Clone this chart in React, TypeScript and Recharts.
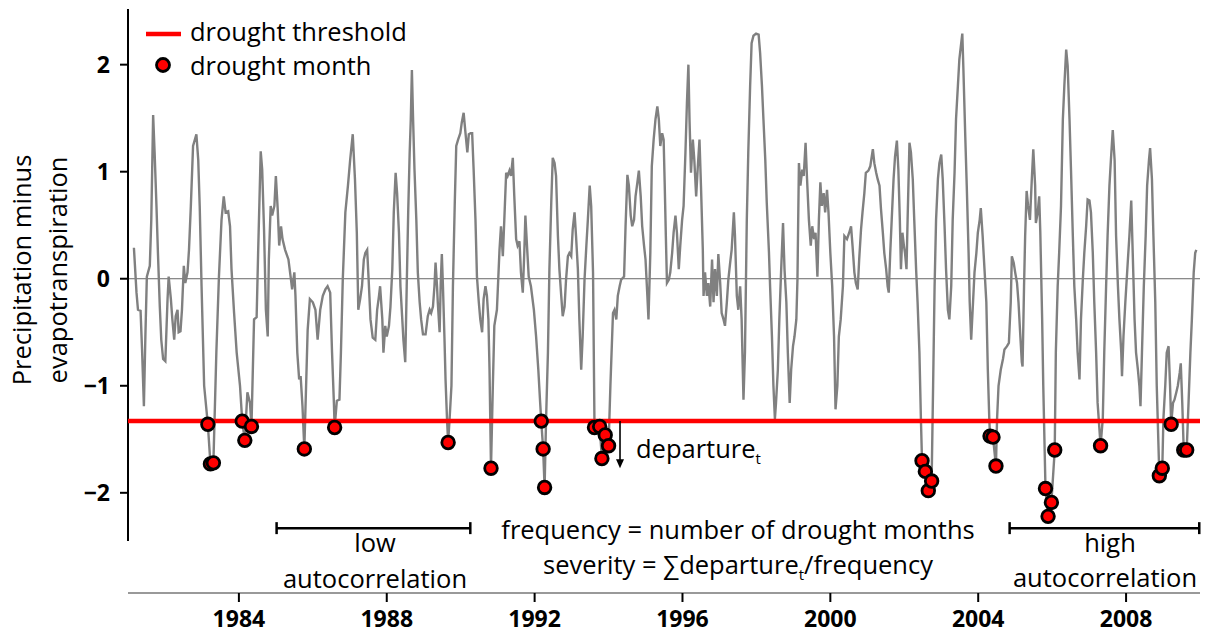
import React from 'react';
import {
  ComposedChart,
  Line,
  Scatter,
  XAxis,
  YAxis,
  ReferenceLine,
  ReferenceDot,
} from 'recharts';

// P - ET series, [decimal year, value] (vertices of the line)
const pmeSeries: [number, number][] = [
  [1981.16, 0.29], [1981.23, -0.13], [1981.27, -0.29], [1981.34, -0.30], [1981.38, -0.66],
  [1981.43, -1.19], [1981.47, -0.54], [1981.51, 0.02], [1981.59, 0.12], [1981.63, 0.55],
  [1981.68, 1.53], [1981.72, 1.18], [1981.77, 0.68], [1981.81, 0.24], [1981.86, -0.26],
  [1981.90, -0.57], [1981.95, -0.75], [1982.01, -0.77], [1982.07, -0.19], [1982.10, 0.02],
  [1982.16, -0.19], [1982.20, -0.38], [1982.25, -0.57], [1982.29, -0.35], [1982.34, -0.29],
  [1982.37, -0.50], [1982.42, -0.49], [1982.46, -0.29], [1982.51, 0.12], [1982.55, -0.04],
  [1982.61, 0.06], [1982.65, 0.27], [1982.70, 0.68], [1982.76, 1.24], [1982.85, 1.35],
  [1982.90, 1.11], [1982.94, 0.68], [1982.99, -0.07], [1983.06, -1.00],
  [1983.39, -0.69], [1983.46, 0.02], [1983.53, 0.55], [1983.59, 0.77], [1983.64, 0.62],
  [1983.71, 0.63], [1983.76, 0.49], [1983.80, 0.09], [1983.87, -0.32], [1983.94, -0.69],
  [1984.03, -1.00], [1984.23, -1.06], [1984.30, -1.16],
  [1984.41, -0.38], [1984.48, -0.36], [1984.52, 0.24], [1984.59, 1.19], [1984.63, 1.02],
  [1984.68, 0.46], [1984.73, -0.29], [1984.78, -0.54], [1984.81, 0.18], [1984.86, 0.68],
  [1984.90, 0.59], [1984.96, 0.68], [1985.00, 0.96], [1985.05, 0.65], [1985.09, 0.31],
  [1985.14, 0.49], [1985.18, 0.37], [1985.25, 0.27], [1985.34, 0.18], [1985.41, -0.01],
  [1985.44, -0.10], [1985.50, 0.06], [1985.53, -0.16], [1985.58, -0.69], [1985.63, -0.94],
  [1985.67, -0.91], [1985.72, -1.19],
  [1985.86, -0.48], [1985.92, -0.19], [1986.00, -0.22], [1986.07, -0.29], [1986.13, -0.57],
  [1986.20, -0.29], [1986.27, -0.16], [1986.34, -0.10], [1986.40, -0.07], [1986.47, -0.13],
  [1986.52, -0.69], [1986.57, -1.16],
  [1986.65, -1.14], [1986.72, -1.13], [1986.76, -0.69], [1986.81, -0.01], [1986.88, 0.62],
  [1986.95, 0.87], [1987.01, 1.11], [1987.08, 1.35], [1987.14, 0.93], [1987.19, 0.43],
  [1987.23, -0.29], [1987.28, -0.19], [1987.33, -0.07], [1987.38, 0.18], [1987.42, 0.24],
  [1987.47, 0.27], [1987.51, -0.01], [1987.56, -0.38], [1987.62, -0.55], [1987.69, -0.57],
  [1987.74, -0.29], [1987.79, -0.16], [1987.82, -0.07], [1987.88, -0.38], [1987.91, -0.69],
  [1987.96, -0.44], [1988.00, -0.54], [1988.06, -0.44], [1988.10, -0.26], [1988.15, 0.09],
  [1988.19, 0.62], [1988.24, 0.99], [1988.28, 0.80], [1988.33, 0.43], [1988.37, -0.07],
  [1988.42, -0.38], [1988.45, -0.57], [1988.50, -0.78], [1988.54, -0.07], [1988.58, 0.62],
  [1988.62, 1.18], [1988.65, 1.49], [1988.68, 1.95], [1988.71, 1.52], [1988.75, 1.02],
  [1988.80, 0.55], [1988.84, 0.06], [1988.89, -0.22], [1988.93, -0.38], [1988.98, -0.52],
  [1989.05, -0.52], [1989.11, -0.35], [1989.16, -0.29], [1989.20, -0.32], [1989.25, -0.26],
  [1989.29, -0.07], [1989.32, 0.15], [1989.36, -0.07], [1989.38, -0.22], [1989.43, -0.50],
  [1989.46, -0.04], [1989.49, 0.23], [1989.52, -0.07], [1989.56, -0.54], [1989.59, -0.94],
  [1989.63, -1.31],
  [1989.70, -1.31], [1989.75, -1.00], [1989.79, -0.07], [1989.84, 0.71], [1989.88, 1.24],
  [1989.93, 1.30], [1989.99, 1.36], [1990.03, 1.46], [1990.08, 1.55], [1990.13, 1.36],
  [1990.18, 1.18], [1990.22, 1.35], [1990.27, 1.36], [1990.31, 1.36], [1990.35, 1.02],
  [1990.40, 0.55], [1990.44, 0.02], [1990.49, -0.22], [1990.53, -0.38], [1990.58, -0.50],
  [1990.62, -0.19], [1990.67, -0.07], [1990.71, -0.16], [1990.75, -0.38], [1990.78, -0.85],
  [1990.87, -1.00], [1990.91, -0.44], [1990.98, -0.29], [1991.05, 0.27], [1991.09, 0.49],
  [1991.14, 0.21], [1991.18, 0.55], [1991.23, 0.99], [1991.27, 0.96], [1991.32, 1.01],
  [1991.36, 0.96], [1991.41, 1.13], [1991.45, 0.77], [1991.50, 0.37], [1991.54, 0.31],
  [1991.59, 0.35], [1991.63, 0.06], [1991.68, -0.13], [1991.72, 0.24], [1991.75, 0.59],
  [1991.80, 0.27], [1991.84, 0.02], [1991.90, -0.07], [1991.98, -0.29], [1992.04, -0.54],
  [1992.10, -0.85], [1992.15, -1.16],
  [1992.31, -1.31], [1992.36, -0.69], [1992.40, 0.09], [1992.45, 0.71], [1992.49, 1.13],
  [1992.54, 1.08], [1992.58, 0.96], [1992.63, 0.40], [1992.67, 0.09], [1992.72, -0.16],
  [1992.76, -0.35], [1992.81, -0.26], [1992.85, -0.01], [1992.90, 0.21], [1992.94, 0.24],
  [1992.99, 0.21], [1993.03, 0.46], [1993.08, 0.62], [1993.12, 0.40], [1993.17, 0.09],
  [1993.21, -0.38], [1993.26, -0.85], [1993.30, -0.54], [1993.35, -0.01], [1993.40, 0.31],
  [1993.44, 0.55], [1993.49, 0.87], [1993.53, 0.68], [1993.58, 0.06],
  [1994.05, -1.00], [1994.12, -0.32], [1994.16, -0.29], [1994.21, -0.38], [1994.25, -0.16],
  [1994.30, -0.07], [1994.34, -0.01], [1994.42, 0.02], [1994.46, 0.49], [1994.51, 0.97],
  [1994.55, 0.87], [1994.60, 0.59], [1994.64, 0.49], [1994.69, 0.55], [1994.73, 0.77],
  [1994.78, 0.90], [1994.82, 1.01], [1994.87, 0.77], [1994.91, 0.49], [1994.96, 0.31],
  [1995.00, 0.18], [1995.05, -0.16], [1995.08, -0.38], [1995.13, 0.24], [1995.17, 1.05],
  [1995.22, 1.30], [1995.27, 1.49], [1995.32, 1.61], [1995.36, 1.49], [1995.40, 1.24],
  [1995.45, 1.36], [1995.49, 1.30], [1995.52, 0.87], [1995.55, 0.40], [1995.58, -0.04],
  [1995.63, -0.01], [1995.67, 0.06], [1995.72, 0.24], [1995.76, 0.43], [1995.81, 0.59],
  [1995.85, 0.43], [1995.90, 0.09], [1995.94, 0.31], [1995.99, 0.55], [1996.03, 0.68],
  [1996.08, 1.18], [1996.12, 1.64], [1996.16, 2.00], [1996.19, 1.49], [1996.23, 0.99],
  [1996.28, 1.30], [1996.32, 1.11], [1996.37, 0.77], [1996.41, 1.02], [1996.46, 1.30],
  [1996.50, 0.87], [1996.55, 0.27], [1996.57, -0.16], [1996.61, 0.06], [1996.66, -0.16],
  [1996.70, -0.04], [1996.75, -0.26], [1996.80, 0.18], [1996.84, -0.22], [1996.88, 0.09],
  [1996.93, -0.16], [1996.97, 0.23], [1997.02, -0.04], [1997.06, -0.32], [1997.11, -0.38],
  [1997.15, -0.44], [1997.20, -0.22], [1997.24, -0.01], [1997.29, 0.15], [1997.33, 0.27],
  [1997.39, 0.62], [1997.42, 0.40], [1997.47, -0.16], [1997.51, -0.29], [1997.56, -0.07],
  [1997.60, -0.38], [1997.65, -1.13], [1997.69, -0.69], [1997.74, 0.55], [1997.78, 1.18],
  [1997.83, 1.80], [1997.87, 2.20], [1997.92, 2.27], [1997.99, 2.29], [1998.06, 2.28],
  [1998.10, 2.11], [1998.15, 1.80], [1998.19, 1.49], [1998.24, 1.11], [1998.28, 0.71],
  [1998.34, 0.24], [1998.37, -0.07], [1998.42, -0.54], [1998.46, -1.00], [1998.50, -1.31],
  [1998.53, -1.16], [1998.58, -0.85], [1998.62, -0.38], [1998.67, 0.09], [1998.72, 0.52],
  [1998.76, 0.09], [1998.81, -0.22], [1998.85, -0.69], [1998.90, -1.16], [1998.94, -0.85],
  [1998.99, -0.63], [1999.03, -0.54], [1999.08, -0.38], [1999.11, -0.01], [1999.15, 1.08],
  [1999.19, 0.87], [1999.24, 1.02], [1999.28, 0.96], [1999.33, 1.27], [1999.37, 0.93],
  [1999.42, 0.55], [1999.47, 0.31], [1999.51, 0.49], [1999.56, 0.37], [1999.60, 0.43],
  [1999.65, 0.02], [1999.69, 0.55], [1999.73, 0.90], [1999.77, 0.68], [1999.82, 0.80],
  [1999.86, 0.62], [1999.91, 0.83], [1999.95, 0.62], [2000.00, 0.24], [2000.05, -0.07],
  [2000.10, -0.54], [2000.14, -1.22], [2000.19, -1.00], [2000.23, -0.54], [2000.28, -0.38],
  [2000.34, -0.07], [2000.38, 0.40], [2000.45, 0.37], [2000.51, 0.43], [2000.56, 0.49],
  [2000.60, 0.31], [2000.65, 0.06], [2000.69, -0.04], [2000.74, -0.10], [2000.78, 0.18],
  [2000.83, 0.46], [2000.87, 0.62], [2000.92, 0.80], [2000.96, 0.99], [2001.03, 1.01],
  [2001.08, 1.05], [2001.15, 1.21], [2001.19, 1.08], [2001.24, 0.99], [2001.28, 0.93],
  [2001.33, 0.87], [2001.37, 0.65], [2001.42, 0.43], [2001.46, 0.24], [2001.51, 0.09],
  [2001.55, -0.07], [2001.58, -0.13], [2001.62, 0.24], [2001.66, 0.55], [2001.71, 0.93],
  [2001.75, 1.14], [2001.80, 1.29], [2001.84, 1.02], [2001.88, 0.55], [2001.91, 0.09],
  [2001.95, 0.43], [2001.99, 0.31], [2002.02, 0.24], [2002.06, 0.09], [2002.09, 0.55],
  [2002.14, 1.27], [2002.18, 1.18], [2002.23, 0.93], [2002.27, 0.55], [2002.32, 0.09],
  [2002.36, -0.22], [2002.41, -0.69], [2002.45, -1.31],
  [2002.78, -1.00], [2002.82, -0.07], [2002.86, 0.55], [2002.91, 0.93], [2002.95, 1.08],
  [2003.00, 1.16], [2003.04, 0.93], [2003.09, 0.49], [2003.13, 0.09], [2003.18, -0.29],
  [2003.22, -0.38], [2003.27, -0.07], [2003.31, 0.55], [2003.36, 0.99], [2003.40, 1.49],
  [2003.45, 1.80], [2003.49, 2.05], [2003.54, 2.20], [2003.57, 2.29], [2003.60, 1.95],
  [2003.65, 1.33], [2003.69, 0.87], [2003.74, 0.24], [2003.77, -0.22], [2003.81, -0.57],
  [2003.86, -0.22], [2003.90, 0.06], [2003.95, 0.24], [2003.99, 0.43], [2004.04, 0.55],
  [2004.07, 0.66], [2004.12, 0.40], [2004.17, 0.09], [2004.22, -0.22], [2004.26, -0.85],
  [2004.30, -1.31],
  [2004.51, -1.31], [2004.55, -1.00], [2004.61, -0.85], [2004.67, -0.75], [2004.71, -0.66],
  [2004.78, -0.63], [2004.83, -0.60], [2004.88, -0.22], [2004.91, 0.21], [2004.96, 0.15],
  [2005.00, 0.06], [2005.05, -0.04], [2005.09, -0.22], [2005.14, -0.54], [2005.18, -0.78],
  [2005.20, -0.82], [2005.24, -0.07], [2005.27, 0.40], [2005.31, 0.82], [2005.35, 0.68],
  [2005.40, 0.55], [2005.45, 0.93], [2005.49, 1.21], [2005.54, 0.87], [2005.56, 0.52],
  [2005.61, 0.62], [2005.65, 0.77], [2005.68, 0.43], [2005.73, -0.38], [2005.76, -1.00],
  [2006.10, -0.69], [2006.15, -0.07], [2006.19, 0.24], [2006.24, 0.68], [2006.29, 1.49],
  [2006.33, 1.80], [2006.38, 2.14], [2006.42, 1.99], [2006.47, 1.49], [2006.51, 1.02],
  [2006.56, 0.40], [2006.60, -0.07], [2006.65, -0.38], [2006.69, -0.69], [2006.74, -0.94],
  [2006.78, -0.38], [2006.83, -0.01], [2006.87, 0.24], [2006.92, 0.49], [2006.96, 0.74],
  [2007.01, 0.73], [2007.05, 0.62], [2007.10, 0.24], [2007.14, -0.22], [2007.19, -0.69],
  [2007.23, -1.16], [2007.28, -1.41],
  [2007.37, -1.31], [2007.41, -0.69], [2007.46, -0.07], [2007.50, 0.40], [2007.55, 0.87],
  [2007.59, 1.11], [2007.64, 1.39], [2007.69, 1.11], [2007.73, 0.40], [2007.78, -0.07],
  [2007.82, -0.38], [2007.87, -0.69], [2007.89, -0.91], [2007.93, -0.54], [2007.98, -0.22],
  [2008.05, 0.18], [2008.09, 0.40], [2008.14, 0.73], [2008.18, 0.24], [2008.23, -0.38],
  [2008.27, -0.69], [2008.32, -0.85], [2008.36, -1.00], [2008.39, -1.19], [2008.43, -0.69],
  [2008.48, -0.07], [2008.53, 0.40], [2008.57, 0.87], [2008.62, 1.11], [2008.65, 1.22],
  [2008.70, 0.93], [2008.74, 0.40], [2008.79, -0.22], [2008.83, -1.00],
  [2009.01, -1.31], [2009.06, -1.00], [2009.10, -0.69], [2009.15, -0.63], [2009.19, -1.00],
  [2009.27, -1.16], [2009.31, -1.13], [2009.36, -1.06], [2009.40, -1.00], [2009.45, -0.88],
  [2009.48, -0.79], [2009.52, -1.16],
  [2009.69, -1.16], [2009.74, -0.69], [2009.78, -0.38], [2009.83, 0.06], [2009.87, 0.24],
  [2009.90, 0.27],
];

// months below the threshold
const droughtMonths: [number, number][] = [
  [1983.16, -1.36], [1983.23, -1.73], [1983.31, -1.72], [1984.09, -1.33], [1984.16, -1.51],
  [1984.34, -1.38], [1985.77, -1.59], [1986.59, -1.39], [1989.66, -1.53], [1990.82, -1.77],
  [1992.18, -1.33], [1992.23, -1.59], [1992.27, -1.95], [1993.62, -1.39], [1993.76, -1.38],
  [1993.82, -1.68], [1993.91, -1.46], [1994.00, -1.56], [2002.48, -1.70], [2002.57, -1.80],
  [2002.65, -1.98], [2002.74, -1.89], [2004.32, -1.47], [2004.40, -1.48], [2004.48, -1.75],
  [2005.82, -1.96], [2005.89, -2.22], [2005.98, -2.09], [2006.07, -1.60], [2007.31, -1.56],
  [2008.90, -1.84], [2008.98, -1.77], [2009.22, -1.36], [2009.56, -1.60], [2009.64, -1.60],
];

const threshold = -1.33;
const xTicks = [1984, 1988, 1992, 1996, 2000, 2004, 2008];
const yTicks = [-2, -1, 0, 1, 2];

const lineData = [...pmeSeries, ...droughtMonths]
  .map(([t, v]) => ({ t, v }))
  .sort((a, b) => a.t - b.t);
const dotData = droughtMonths.map(([t, v]) => ({ t, v }));

const FONT = '"Open Sans", sans-serif';
const BRACKET_Y = -2.33;
const CAP = 0.056;

const fmtY = (v: number) => (v < 0 ? `\u2212${Math.abs(v)}` : `${v}`);

const DroughtDot = (props: any) => (
  <circle cx={props.cx} cy={props.cy} r={6.3} fill="#ff0000" stroke="#000" strokeWidth={2.8} />
);

const ArrowHead = (props: any) => (
  <path
    d={`M${props.cx - 4},${props.cy - 9} L${props.cx},${props.cy} L${props.cx + 4},${props.cy - 9} Z`}
    fill="#000"
  />
);

export default function App() {
  const txt = { fontFamily: FONT, fontSize: 25.5, fill: '#000' };
  return (
    <div style={{ position: 'absolute', left: 0, top: 0, width: 1207, height: 634, background: '#fff' }}>
      <ComposedChart width={1207} height={634} margin={{ top: 9, right: 7, bottom: 0, left: 0 }}>
        <XAxis
          dataKey="t"
          type="number"
          domain={[1981, 2010]}
          ticks={xTicks}
          allowDataOverflow
          height={41}
          tickSize={9}
          tickMargin={9}
          axisLine={{ stroke: '#777', strokeWidth: 1.5 }}
          tickLine={{ stroke: '#000', strokeWidth: 2 }}
          tick={{ fill: '#000', fontSize: 23, fontWeight: 700, fontFamily: FONT }}
        />
        <YAxis
          type="number"
          domain={[-2.936, 2.52]}
          ticks={yTicks}
          allowDataOverflow
          width={128}
          tickSize={8}
          tickMargin={10}
          axisLine={false}
          tickLine={{ stroke: '#000', strokeWidth: 2 }}
          tickFormatter={fmtY}
          tick={{ fill: '#000', fontSize: 23, fontWeight: 700, fontFamily: FONT }}
        />
        <ReferenceLine y={0} stroke="#666" strokeWidth={1} />
        <ReferenceLine
          segment={[{ x: 1981, y: -2.45 }, { x: 1981, y: 2.52 }]}
          stroke="#000"
          strokeWidth={2}
        />
        <Line
          data={lineData}
          dataKey="v"
          type="linear"
          stroke="#808080"
          strokeWidth={2.4}
          dot={false}
          activeDot={false}
          isAnimationActive={false}
        />
        <ReferenceLine y={threshold} stroke="#ff0000" strokeWidth={4.5} />
        <Scatter data={dotData} dataKey="v" shape={DroughtDot} isAnimationActive={false} />

        {/* departure arrow */}
        <ReferenceLine
          segment={[{ x: 1994.31, y: threshold }, { x: 1994.31, y: -1.72 }]}
          stroke="#000"
          strokeWidth={1.6}
        />
        <ReferenceDot x={1994.31} y={-1.77} shape={ArrowHead} />

        {/* low autocorrelation bracket */}
        <ReferenceLine segment={[{ x: 1985.02, y: BRACKET_Y }, { x: 1990.26, y: BRACKET_Y }]} stroke="#000" strokeWidth={2.5} />
        <ReferenceLine segment={[{ x: 1985.02, y: BRACKET_Y - CAP }, { x: 1985.02, y: BRACKET_Y + CAP }]} stroke="#000" strokeWidth={2.5} />
        <ReferenceLine segment={[{ x: 1990.26, y: BRACKET_Y - CAP }, { x: 1990.26, y: BRACKET_Y + CAP }]} stroke="#000" strokeWidth={2.5} />

        {/* high autocorrelation bracket */}
        <ReferenceLine segment={[{ x: 2004.85, y: BRACKET_Y }, { x: 2009.98, y: BRACKET_Y }]} stroke="#000" strokeWidth={2.5} />
        <ReferenceLine segment={[{ x: 2004.85, y: BRACKET_Y - CAP }, { x: 2004.85, y: BRACKET_Y + CAP }]} stroke="#000" strokeWidth={2.5} />
        <ReferenceLine segment={[{ x: 2009.98, y: BRACKET_Y - CAP }, { x: 2009.98, y: BRACKET_Y + CAP }]} stroke="#000" strokeWidth={2.5} />
      </ComposedChart>

      <svg width={1207} height={634} style={{ position: 'absolute', left: 0, top: 0, pointerEvents: 'none' }}>
        {/* legend */}
        <line x1={146} x2={181} y1={34} y2={34} stroke="#ff0000" strokeWidth={4.5} />
        <text x={190} y={41} {...txt}>drought threshold</text>
        <circle cx={163} cy={65} r={6.5} fill="#ff0000" stroke="#000" strokeWidth={2.8} />
        <text x={190} y={75} {...txt}>drought month</text>

        {/* y axis title */}
        <text transform="translate(31,270) rotate(-90)" textAnchor="middle" {...txt}>
          Precipitation minus
        </text>
        <text transform="translate(67,270) rotate(-90)" textAnchor="middle" {...txt}>
          evapotranspiration
        </text>

        <text x={636} y={458} {...txt}>
          departure<tspan fontSize={15} dy={6}>t</tspan>
        </text>

        <text x={738} y={539} textAnchor="middle" {...txt}>
          frequency = number of drought months
        </text>
        <text x={738} y={574} textAnchor="middle" {...txt}>
          severity = ∑departure<tspan fontSize={15} dy={6}>t</tspan>
          <tspan dy={-6}>/frequency</tspan>
        </text>

        <text x={375} y={552} textAnchor="middle" {...txt}>low</text>
        <text x={375} y={588} textAnchor="middle" {...txt}>autocorrelation</text>
        <text x={1110} y={552} textAnchor="middle" {...txt}>high</text>
        <text x={1105} y={587} textAnchor="middle" {...txt}>autocorrelation</text>
      </svg>
    </div>
  );
}
